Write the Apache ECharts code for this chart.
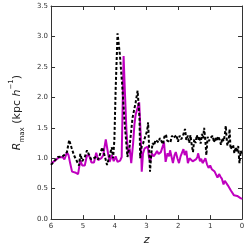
<!DOCTYPE html>
<html><head><meta charset="utf-8">
<script src="https://cdn.jsdelivr.net/npm/echarts@6/dist/echarts.min.js"></script>
<style>html,body{margin:0;padding:0;background:#fff}#c{width:248px;height:251px}</style>
</head><body><div id="c"></div>
<script>
const xTicks = [0,1,2,3,4,5,6];
const yTicks = [0,0.5,1,1.5,2,2.5,3,3.5];
const zMag = [6.00,5.94,5.88,5.82,5.76,5.70,5.64,5.58,5.55,5.50,5.45,5.40,5.34,5.28,5.22,5.15,5.08,5.02,4.94,4.87,4.80,4.73,4.65,4.58,4.52,4.46,4.42,4.36,4.28,4.20,4.16,4.09,4.03,3.97,3.91,3.83,3.78,3.72,3.68,3.63,3.58,3.53,3.48,3.42,3.38,3.34,3.30,3.23,3.18,3.15,3.11,3.06,3.00,2.96,2.92,2.88,2.83,2.78,2.72,2.67,2.62,2.55,2.48,2.45,2.40,2.34,2.29,2.26,2.20,2.17,2.12,2.08,2.03,1.98,1.93,1.89,1.84,1.80,1.75,1.70,1.65,1.61,1.55,1.51,1.45,1.40,1.38,1.32,1.28,1.24,1.19,1.15,1.10,1.05,1.00,0.95,0.90,0.86,0.82,0.77,0.72,0.68,0.63,0.58,0.54,0.49,0.44,0.40,0.35,0.30,0.25,0.20,0.15,0.11,0.06,0.00];
const rMag = [0.91,0.93,0.96,0.98,1.01,1.02,1.02,0.98,1.02,1.10,1.05,0.92,0.78,0.78,0.76,0.74,0.97,0.88,0.88,1.05,1.04,0.93,0.93,1.09,0.97,1.00,1.00,1.05,1.31,1.05,0.94,1.05,0.95,1.03,0.94,0.96,1.02,2.68,2.10,1.45,1.08,1.16,0.92,1.25,1.55,1.72,1.74,1.92,1.34,0.78,1.08,1.16,1.19,1.19,1.00,0.95,1.08,1.03,1.07,1.12,1.07,1.10,1.21,1.26,0.94,1.08,1.03,1.13,1.12,0.92,1.05,1.10,1.00,0.92,1.03,1.05,1.15,1.05,1.12,0.92,1.00,1.02,0.95,0.93,0.98,1.02,1.08,0.95,0.99,0.92,0.96,1.00,0.90,0.84,0.88,0.82,0.85,0.78,0.80,0.68,0.74,0.70,0.66,0.57,0.63,0.60,0.55,0.52,0.47,0.46,0.39,0.42,0.38,0.38,0.35,0.33];
const zBlk = [6.00,5.92,5.85,5.78,5.72,5.64,5.56,5.50,5.43,5.36,5.28,5.22,5.16,5.12,5.08,5.02,4.94,4.87,4.80,4.74,4.66,4.58,4.52,4.47,4.39,4.33,4.24,4.19,4.09,4.05,4.01,3.97,3.91,3.84,3.77,3.69,3.60,3.53,3.44,3.34,3.28,3.22,3.20,3.15,3.11,3.03,2.98,2.95,2.92,2.89,2.85,2.81,2.76,2.72,2.68,2.62,2.58,2.53,2.48,2.44,2.39,2.35,2.30,2.25,2.20,2.15,2.10,2.06,2.01,1.96,1.91,1.86,1.82,1.79,1.75,1.70,1.66,1.62,1.58,1.54,1.50,1.46,1.42,1.38,1.34,1.30,1.26,1.22,1.19,1.15,1.12,1.08,1.04,1.00,0.96,0.92,0.88,0.84,0.79,0.75,0.70,0.66,0.62,0.58,0.54,0.51,0.48,0.46,0.42,0.39,0.36,0.32,0.28,0.24,0.20,0.16,0.12,0.08,0.04,0.00];
const rBlk = [0.89,0.94,0.98,1.02,1.00,1.03,1.06,1.10,1.30,1.18,1.05,1.05,0.92,0.88,1.07,0.95,1.02,1.13,1.05,0.98,1.00,1.02,0.98,1.05,1.18,1.07,0.89,0.88,1.18,1.00,1.30,2.13,3.05,2.72,2.24,1.60,1.02,1.20,1.66,1.92,2.11,1.66,1.00,1.20,1.24,1.37,1.45,1.59,1.20,0.78,1.07,1.25,1.21,1.30,1.27,1.26,1.33,1.28,1.23,1.35,1.39,1.29,1.32,1.26,1.37,1.33,1.30,1.38,1.27,1.37,1.31,1.36,1.34,1.48,1.30,1.37,1.25,1.38,1.22,1.10,1.31,1.25,1.38,1.30,1.36,1.24,1.40,1.33,1.50,1.28,1.05,1.35,1.28,1.33,1.30,1.37,1.26,1.34,1.28,1.36,1.30,1.22,1.33,1.28,1.38,1.53,1.30,1.21,1.28,1.48,1.15,1.15,1.22,1.08,1.18,1.10,1.20,0.92,1.12,1.05];

const zip = (a,b) => a.map((v,i)=>[v,b[i]]);
const font = 'DejaVu Sans';
const tickCol = '#333';
const axisCommon = {
  axisLine:{show:true,onZero:false,lineStyle:{color:'#333',width:1}},
  axisTick:{show:true,inside:true,length:4,lineStyle:{color:'#333'}},
  splitLine:{show:false}
};
const chart = echarts.init(document.getElementById('c'));
chart.setOption({
  animation:false,
  backgroundColor:'#fff',
  grid:{left:29,right:6,top:6,bottom:25},
  xAxis:[
    Object.assign({type:'value',min:0,max:6,interval:1,inverse:true,position:'bottom',
      axisLabel:{fontSize:7,color:tickCol,fontFamily:font,margin:4},
      name:'z',nameLocation:'middle',nameGap:14,
      nameTextStyle:{fontSize:11,fontStyle:'italic',color:'#222',fontFamily:font}},axisCommon),
    Object.assign({type:'value',min:0,max:6,interval:1,inverse:true,position:'top',
      axisLabel:{show:false}},axisCommon)
  ],
  yAxis:[
    Object.assign({type:'value',min:0,max:3.5,interval:0.5,position:'left',
      axisLabel:{fontSize:7,color:tickCol,fontFamily:font,margin:3,formatter:v=>v.toFixed(1)},
      name:'{i|R}{s|max} {n|(kpc }{i|h}{s2|−1}{n|)}',nameLocation:'middle',nameGap:16,
      nameTextStyle:{color:'#222',fontFamily:font,fontSize:11,
        rich:{
          i:{fontStyle:'italic',fontSize:11,fontFamily:font,color:'#222',lineHeight:18,verticalAlign:'middle'},
          n:{fontSize:11,fontFamily:font,color:'#222',lineHeight:18,verticalAlign:'middle'},
          s:{fontSize:7,fontFamily:font,color:'#222',lineHeight:18,verticalAlign:'bottom'},
          s2:{fontSize:7,fontFamily:font,color:'#222',lineHeight:18,verticalAlign:'top'}
        }}},axisCommon),
    Object.assign({type:'value',min:0,max:3.5,interval:0.5,position:'right',
      axisLabel:{show:false}},axisCommon)
  ],
  series:[
    {type:'line',data:zip(zMag,rMag),showSymbol:false,symbol:'none',
      lineStyle:{color:'#bf00bf',width:2},z:2},
    {type:'line',data:zip(zBlk,rBlk),showSymbol:false,symbol:'none',
      lineStyle:{color:'#000',width:2,type:[3,2]},z:3}
  ]
});
</script></body></html>
